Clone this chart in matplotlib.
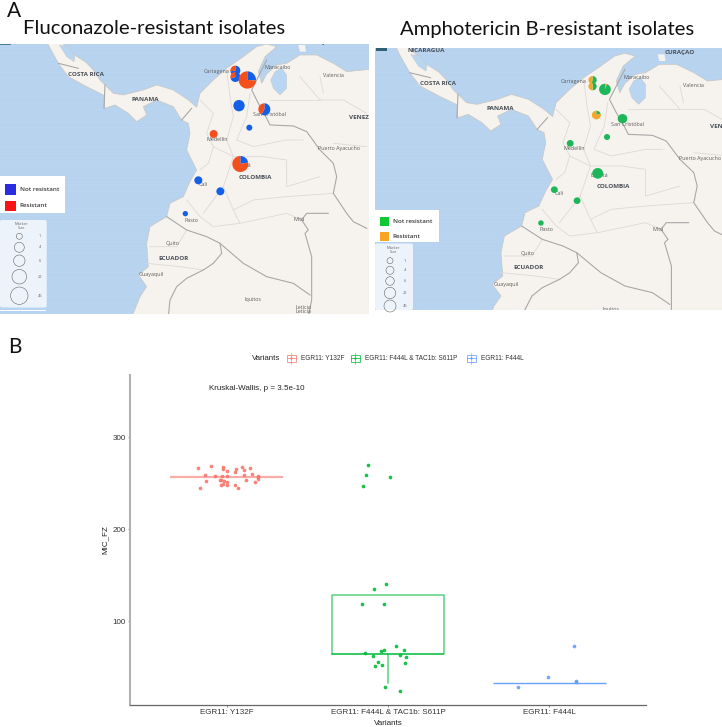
import matplotlib
matplotlib.use('Agg')
import matplotlib.pyplot as plt
from matplotlib.patches import Polygon, Rectangle, Wedge, Circle, FancyBboxPatch

plt.rcParams['font.family'] = ['Liberation Sans', 'DejaVu Sans']
plt.rcParams['hatch.linewidth'] = 0.5

# boxplot data
variants = ['EGR11: Y132F', 'EGR11: F444L & TAC1b: S611P', 'EGR11: F444L']
variant_colors = ['#F8766D', '#00BA38', '#619CFF']
y132f_x = [0.821, 0.900, 0.974, 0.976, 0.999, 1.057, 1.053, 1.094, 1.110, 1.143, 0.865, 0.929, 0.972, 1.003, 1.104, 1.154,
           1.191, 1.193, 1.195, 1.117, 1.174, 0.871, 0.956, 0.966, 0.982, 1.001, 1.003, 0.978, 0.966, 1.051, 1.071, 0.834]
y132f_y = [266.3, 268.5, 267.0, 265.6, 262.7, 265.6, 262.3, 267.7, 264.1, 266.0, 259.0, 257.3, 257.6, 258.0, 258.3, 259.8,
           258.0, 256.5, 254.3, 253.3, 251.0, 252.2, 252.9, 252.9, 251.8, 251.0, 248.2, 249.2, 248.2, 247.8, 244.2, 244.9]
double_x = [1.878, 1.862, 2.010, 1.843, 1.986, 1.915, 1.837, 1.973, 2.047, 2.101, 1.975,
            1.959, 1.860, 2.074, 1.909, 2.111, 1.940, 2.107, 1.920, 1.965, 1.979, 2.076]
double_y = [269.2, 258.7, 256.9, 246.4, 140.2, 134.8, 118.1, 118.8, 72.5, 68.1, 68.8,
            67.7, 65.2, 63.4, 62.3, 60.5, 55.1, 54.3, 51.1, 52.2, 27.9, 24.3]
f444l_x = [2.809, 2.993, 3.156, 3.164, 3.164]
f444l_y = [28.6, 39.1, 72.8, 35.1, 33.7]
# q1, median, q3, whisker low, whisker high
box_stats = [[256.9, 256.9, 256.9, 256.9, 256.9],
             [64.5, 64.5, 127.9, 32.2, 127.9],
             [32.2, 32.2, 32.2, 32.2, 32.2]]
y_ticks = [100, 200, 300]

# map markers, same sites on both maps
site_x = [706, 706, 742, 717, 793, 748, 641, 721, 595, 661, 556]
site_y = [212, 231, 240, 317, 328, 383, 402, 492, 541, 574, 641]
fz_resistant = [0.27, 0.30, 0.74, 0.0, 0.42, 0.0, 1.0, 0.78, 0.0, 0.0, 0.0]
fz_sizes = [15, 15, 26, 17, 18, 9, 12, 24, 12, 12, 8]
amb_resistant = [0.45, 0.50, 0.06, 0.80, 0.0, 0.0, 0.0, 0.0, 0.0, 0.0, 0.0]
amb_sizes = [12, 12, 17, 13, 14, 9, 10, 16, 10, 10, 8]
size_labels = ['1', '4', '6', '22', '45']

# map labels: text, x, y, bold
place_labels = [('NICARAGUA', 224, 122, True), ('CURAÇAO', 960, 129, True), ('COSTA RICA', 257, 223, True),
                ('PANAMA', 437, 298, True), ('Cartagena', 650, 215, False), ('Maracaibo', 833, 204, False),
                ('Valencia', 1000, 228, False), ('San Cristóbal', 808, 344, False),
                ('Medellín', 653, 418, False), ('Puerto Ayacucho', 1018, 447, False), ('Bogotá', 726, 497, False),
                ('COLOMBIA', 767, 532, True), ('Cali', 610, 553, False), ('Pasto', 573, 661, False),
                ('Mitú', 897, 659, False), ('Quito', 517, 731, False), ('ECUADOR', 521, 775, True),
                ('Guayaquil', 455, 825, False), ('Iquitos', 760, 900, False), ('Leticia', 910, 922, False),
                ('Leticia', 910, 935, False)]

# land outline
land = [(174, 100), (185, 127), (219, 162), (258, 187), (280, 210), (300, 240), (340, 280), (370, 285), (430, 270),
        (470, 255), (520, 270), (565, 300), (590, 322), (600, 280), (640, 240), (680, 205), (730, 170), (770, 140), (800, 132),
        (830, 140), (795, 170), (775, 215), (785, 250), (800, 222), (830, 195), (860, 190), (900, 165), (950, 165), (1000, 190),
        (1040, 215), (1110, 208), (1200, 210), (1200, 1000), (390, 1000), (400, 940), (420, 890), (440, 860), (415, 825),
        (445, 800), (440, 730), (450, 680), (500, 650), (510, 610), (550, 590), (570, 545), (590, 510), (560, 450), (570, 400),
        (565, 370), (545, 360), (520, 320), (470, 300), (430, 320), (440, 345), (410, 365), (385, 340), (345, 315), (315, 325),
        (310, 285), (260, 260), (205, 230), (175, 190), (145, 135), (130, 100)]
lake_maracaibo = [(812, 240), (825, 215), (845, 205), (860, 225), (860, 265), (840, 285), (820, 265)]
lake_nicaragua = [(178, 135), (205, 140), (225, 170), (222, 185), (200, 170)]
island_curacao = [(895, 135), (915, 135), (918, 155), (900, 155)]
borders = [[(800, 180), (770, 240), (755, 270), (775, 310), (795, 345), (810, 375), (880, 378), (920, 395), (960, 450), (1000, 490),
            (1010, 530), (1000, 580), (1040, 640), (1060, 665), (1100, 685)],
           [(985, 640), (920, 640), (905, 660), (925, 690), (915, 700), (935, 770), (935, 900), (925, 950)],
           [(500, 650), (560, 690), (620, 710), (660, 730), (665, 760), (640, 790), (610, 810), (560, 835), (530, 860), (510, 900), (505, 950)],
           [(660, 730), (730, 790), (800, 830), (880, 850), (930, 885)],
           [(545, 360), (575, 325)], [(315, 255), (312, 325)], [(175, 190), (235, 205)]]
regions = [[(600, 300), (640, 340), (620, 400), (640, 440), (625, 490), (600, 510)],
           [(680, 210), (690, 290), (700, 350), (680, 420), (700, 470), (670, 560), (610, 640)],
           [(750, 280), (740, 350), (710, 420), (760, 440), (860, 420), (910, 420)],
           [(640, 440), (700, 470), (790, 470), (860, 480), (860, 560), (960, 530)],
           [(670, 560), (700, 630), (760, 600), (860, 590), (1000, 580)],
           [(700, 630), (720, 670), (860, 640), (905, 660)],
           [(560, 600), (600, 650), (640, 680), (720, 670)],
           [(450, 740), (530, 740), (560, 690)], [(440, 790), (540, 800), (610, 810)],
           [(900, 230), (960, 300), (1030, 300), (1100, 340)], [(810, 300), (900, 300), (960, 300)],
           [(960, 230), (970, 280)], [(1000, 430), (1100, 440)]]

SEA = '#b6d2ee'
LAND = '#f6f3ef'

fig = plt.figure(figsize=(7.22, 7.27), dpi=100, facecolor='white')


def px_axes(left, top, right, bottom):
    return fig.add_axes([left / 722, 1 - bottom / 727, (right - left) / 722, (bottom - top) / 727])


def draw_pie(ax, x, y, r, res, col_not, col_res):
    if res == 0 or res == 1:
        ax.add_patch(Circle((x, y), r, fc=col_res if res else col_not, ec='none', zorder=5))
        return
    # plotly slices run clockwise from 12 o'clock
    if res < 0.1:
        first, second, split = col_res, col_not, res
    else:
        first, second, split = col_not, col_res, 1 - res
    # y axis is inverted here so wedge angles run clockwise on screen
    ax.add_patch(Wedge((x, y), r, -90, -90 + 360 * split, fc=first, ec='none', zorder=5))
    ax.add_patch(Wedge((x, y), r, -90 + 360 * split, 270, fc=second, ec='none', zorder=5))


def draw_map(ax, xlim, ylim, resistant, sizes, col_not, col_res, edge_word):
    ax.set_xlim(*xlim)
    ax.set_ylim(*ylim)
    ax.axis('off')
    ax.add_patch(Rectangle((0, 0), 1, 1, transform=ax.transAxes, fc=SEA, ec='#bdd7f1', hatch='-------', lw=0))
    ax.add_patch(Polygon(land, fc=LAND, ec='#c9c6c2', lw=0.5, zorder=2))
    for shape in (lake_maracaibo, lake_nicaragua):
        ax.add_patch(Polygon(shape, fc='#b8d5f1', ec='#c9c6c2', lw=0.3, zorder=2))
    ax.add_patch(Polygon(island_curacao, fc=LAND, ec='none', zorder=2))
    for line in regions:
        ax.plot(*zip(*line), color='#dcd9d6', lw=0.6, zorder=3)
    for line in borders:
        ax.plot(*zip(*line), color='#a9a8a8', lw=0.8, zorder=3)
    for text, x, y, bold in place_labels:
        ax.text(x, y, text, ha='center', va='center', family='Open Sans', fontsize=4.5 if bold else 3.9, clip_on=True,
                color='#4a4f57' if bold else '#5c5c5c', fontweight='bold' if bold else 'normal', zorder=4)
    # the map frame cuts this name off, at a different letter on each map
    ax.text(1048, 352, edge_word, ha='left', va='center', family='Open Sans', fontsize=4.5, color='#4a4f57', fontweight='bold', zorder=4)
    for x, y, r, res in zip(site_x, site_y, sizes, resistant):
        draw_pie(ax, x, y, r, res, col_not, col_res)


ax_fz = px_axes(0, 44.3, 369, 314)
draw_map(ax_fz, (0, 1107), (942, 133), fz_resistant, fz_sizes, '#135fe8', '#f4501c', 'VENEZ')
ax_amb = px_axes(375, 47.7, 722, 310)
draw_map(ax_amb, (74, 1082), (902, 115), amb_resistant, amb_sizes, '#1eb65a', '#f5a52a', 'VEN')

# boxplot panel
ax = px_axes(130, 375, 646, 705)
median_styles = [dict(alpha=0.6, lw=1.6), dict(alpha=0.65, lw=1.2), dict(alpha=0.95, lw=1.0)]
for i, (vals, color) in enumerate(zip(box_stats, variant_colors)):
    q1, med, q3, low, high = vals
    props = dict(color=color, alpha=0.65, lw=1.1)
    ax.bxp([dict(med=med, q1=q1, q3=q3, whislo=low, whishi=high, fliers=[])], positions=[i + 1], widths=0.7,
           showcaps=False, showfliers=False, manage_ticks=False, boxprops=props if q3 > q1 else dict(lw=0), whiskerprops=props,
           medianprops=dict(color=color, **median_styles[i]))
for xs, ys, color in zip((y132f_x, double_x, f444l_x), (y132f_y, double_y, f444l_y), variant_colors):
    ax.scatter(xs, ys, s=7, color=color, lw=0, alpha=0.9, zorder=4)
ax.set_xlim(0.4, 3.6)
ax.set_ylim(8.7, 367.4)
ax.set_xticks([1, 2, 3], variants)
ax.set_yticks(y_ticks)
ax.tick_params(axis='both', labelsize=5.8, labelcolor='#333333', length=1.5, width=0.5, color='#555555', pad=1.5)
ax.spines[['top', 'right']].set_visible(False)
ax.spines['left'].set_color('#b2b2b2')
ax.spines['left'].set_linewidth(1.5)
ax.spines['bottom'].set_color('#666666')
ax.spines['bottom'].set_linewidth(0.9)
ax.set_xlabel('Variants', fontsize=5.8, color='#222222', labelpad=3)
ax.set_ylabel('MIC_FZ', fontsize=5.8, color='#222222', labelpad=2.5)

# everything else is placed in figure pixels
over = fig.add_axes([0, 0, 1, 1], zorder=10)
over.set_xlim(0, 722)
over.set_ylim(727, 0)
over.axis('off')
over.patch.set_alpha(0)

over.text(7, 11, 'A', family='Lato', fontsize=15, va='center', color='#111111')
over.text(8, 347, 'B', family='Lato', fontsize=15, va='center', color='#111111')
over.text(23, 29, 'Fluconazole-resistant isolates', family='Lato', fontsize=14.6, va='center', color='#111111')
over.text(400, 29, 'Amphotericin B-resistant isolates', family='Lato', fontsize=14.6, va='center', color='#111111')
over.text(209, 388, 'Kruskal-Wallis, p = 3.5e-10', fontsize=5.8, color='#222222', va='center')

# variants legend
over.text(252, 358, 'Variants', fontsize=5.7, color='#222222', va='center')
for key_x, label_x, label, color in zip((291, 355, 471), (301, 365, 481), variants, variant_colors):
    over.add_patch(Rectangle((key_x - 4.5, 354.5), 9, 7, fc='white', ec=color, lw=0.7, alpha=0.75))
    over.plot([key_x - 4.5, key_x + 4.5], [358, 358], color=color, lw=0.7, alpha=0.75)
    over.plot([key_x, key_x], [352.5, 363.5], color=color, lw=0.5, alpha=0.75)
    over.plot([key_x], [358], 'o', ms=1.6, color=color, mew=0)
    over.text(label_x, 358, label, fontsize=4.7, color='#333333', va='center')


def map_legend(box, keys, labels, colors, label_x):
    over.add_patch(Rectangle((box[0], box[1]), box[2], box[3], fc='white', ec='none'))
    for (kx, ky, ks), label, color in zip(keys, labels, colors):
        over.add_patch(Rectangle((kx, ky), ks, ks, fc=color, ec='none'))
        over.text(label_x, ky + ks / 2, label, family='Open Sans', fontsize=4.5, fontweight='semibold', color='#3a3a3a', va='center')


def size_panel(box, title_xy, centers, radii, label_x):
    over.add_patch(FancyBboxPatch((box[0] + 1, box[1] + 1), box[2] - 2, box[3] - 2, boxstyle='round,pad=1,rounding_size=2',
                                  fc='#edf3fb', ec='none', clip_on=True))
    over.text(title_xy[0], title_xy[1], 'Marker\nSize', family='Open Sans', fontsize=2.9, color='#666666', ha='center', va='center', linespacing=1)
    for (cx, cy), r, label in zip(centers, radii, size_labels):
        over.add_patch(Circle((cx, cy), r, fc='none', ec='#666666', lw=0.4))
        over.text(label_x, cy, label, family='Open Sans', fontsize=2.9, color='#666666', ha='center', va='center')


legend_words = ['Not resistant', 'Resistant']
map_legend((0, 175.7, 65, 37), [(5.3, 184.3, 10.5), (5.3, 200.7, 10.5)], legend_words, ['#2a2ce2', '#fb1212'], 19.5)
size_panel((0, 220, 46.7, 87.5), (21.7, 226), [(19.3, 236.3), (19.3, 247.3), (19.3, 260.7), (19.3, 276.7), (19.3, 295.7)],
           [3, 5, 5.7, 7.3, 8.7], 40)
map_legend((375, 210, 64, 31.7), [(379.7, 216.7, 9.5), (379.7, 231.7, 9.5)], legend_words, ['#10c832', '#f9a425'], 392.7)
size_panel((375, 243.5, 38, 66.5), (393, 250), [(390, 260.7), (390, 270.3), (390, 281), (390, 293), (390, 306)],
           [3, 4, 4.3, 5.7, 6], 405)
over.add_patch(Rectangle((0, 310), 46, 1.2, fc='white', ec='none'))
over.add_patch(Rectangle((0, 44), 11, 1, fc='#4a7f8f', ec='none'))
over.add_patch(Rectangle((376, 47.7), 10.5, 3, fc='#2f5f70', ec='none'))

fig.savefig('out.png', dpi=100)
